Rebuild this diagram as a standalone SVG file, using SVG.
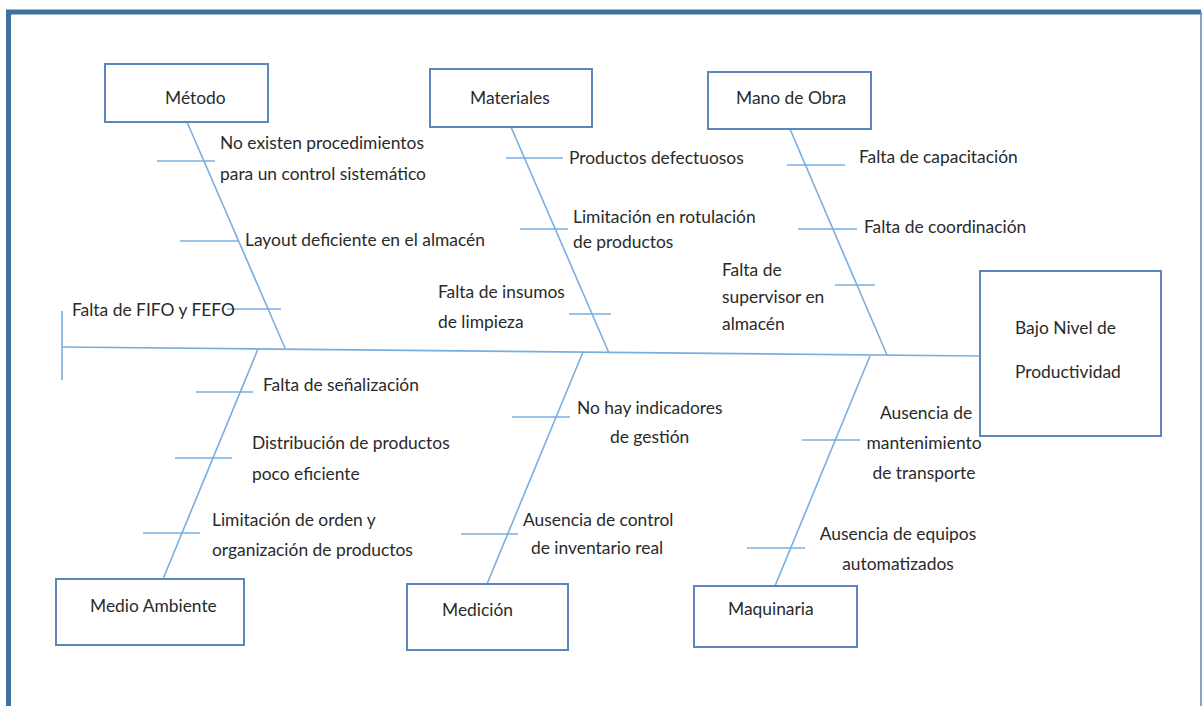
<svg xmlns="http://www.w3.org/2000/svg" width="1203" height="706" viewBox="0 0 1203 706">
<style>
.box{fill:#fff;stroke:#5b87bd;stroke-width:2}
.ln{stroke:#7aaee0;stroke-width:1.6;fill:none}
text{font-family:Lato,"Liberation Sans",sans-serif;font-size:17.4px;fill:#2a2a2a}
.c{text-anchor:middle}
</style>
<rect width="1203" height="706" fill="#fff"/>
<g id="frame">
<path d="M8.5 710 V12 H1201" fill="none" stroke="#41709e" stroke-width="5"/>
<path d="M1201 12 V710" fill="none" stroke="#5f86b0" stroke-width="1.5"/>
</g>
<g id="connectors">
<line class="ln" x1="62" y1="347" x2="980" y2="356"/>
<line class="ln" x1="62" y1="311" x2="62" y2="380"/>
<line class="ln" x1="187" y1="122" x2="285" y2="348"/>
<line class="ln" x1="157" y1="161" x2="215" y2="161"/>
<line class="ln" x1="180" y1="241" x2="238" y2="241"/>
<line class="ln" x1="227" y1="309" x2="281" y2="309"/>
<line class="ln" x1="511" y1="127" x2="609" y2="353"/>
<line class="ln" x1="506" y1="158" x2="563" y2="158"/>
<line class="ln" x1="520" y1="229" x2="568" y2="229"/>
<line class="ln" x1="569" y1="314" x2="611" y2="314"/>
<line class="ln" x1="790" y1="129" x2="887" y2="355"/>
<line class="ln" x1="787" y1="165" x2="845" y2="165"/>
<line class="ln" x1="798" y1="229" x2="857" y2="229"/>
<line class="ln" x1="835" y1="285" x2="875" y2="285"/>
<line class="ln" x1="258" y1="349" x2="163" y2="579"/>
<line class="ln" x1="196" y1="392" x2="253" y2="392"/>
<line class="ln" x1="175" y1="458" x2="232" y2="458"/>
<line class="ln" x1="143" y1="533" x2="200" y2="533"/>
<line class="ln" x1="583" y1="352" x2="487" y2="584"/>
<line class="ln" x1="512" y1="417" x2="570" y2="417"/>
<line class="ln" x1="461" y1="534" x2="518" y2="534"/>
<line class="ln" x1="870" y1="356" x2="775" y2="586"/>
<line class="ln" x1="802" y1="440" x2="860" y2="440"/>
<line class="ln" x1="747" y1="548" x2="805" y2="548"/>
</g>
<g id="metodo"><rect class="box" x="105" y="64" width="163" height="58"/><text x="165" y="104">Método</text></g>
<g id="materiales"><rect class="box" x="430" y="69" width="162" height="58"/><text x="470" y="104">Materiales</text></g>
<g id="mano-de-obra"><rect class="box" x="708" y="72" width="163" height="57"/><text x="736" y="104">Mano de Obra</text></g>
<g id="efecto"><rect class="box" x="980" y="271" width="181" height="165"/><text x="1015" y="334">Bajo Nivel de</text><text x="1015" y="378">Productividad</text></g>
<g id="medio-ambiente"><rect class="box" x="56" y="579" width="188" height="66"/><text x="90" y="612">Medio Ambiente</text></g>
<g id="medicion"><rect class="box" x="407" y="584" width="161" height="66"/><text x="442" y="616">Medición</text></g>
<g id="maquinaria"><rect class="box" x="694" y="586" width="163" height="61"/><text x="728" y="615">Maquinaria</text></g>
<g id="labels">
<text x="220" y="149">No existen procedimientos</text>
<text x="220" y="180">para un control sistemático</text>
<text x="245" y="246">Layout deficiente en el almacén</text>
<text x="72" y="316">Falta de FIFO y FEFO</text>
<text x="569" y="164">Productos defectuosos</text>
<text x="573" y="223">Limitación en rotulación</text>
<text x="573" y="248">de productos</text>
<text x="438" y="298">Falta de insumos</text>
<text x="438" y="328">de limpieza</text>
<text x="859" y="163">Falta de capacitación</text>
<text x="864" y="233">Falta de coordinación</text>
<text x="722" y="276">Falta de</text>
<text x="722" y="303">supervisor en</text>
<text x="722" y="330">almacén</text>
<text x="263" y="391">Falta de señalización</text>
<text x="252" y="449">Distribución de productos</text>
<text x="252" y="480">poco eficiente</text>
<text x="212" y="526">Limitación de orden y</text>
<text x="212" y="556">organización de productos</text>
<text x="577" y="414">No hay indicadores</text>
<text x="610" y="443">de gestión</text>
<text x="523" y="526">Ausencia de control</text>
<text x="531" y="554">de inventario real</text>
<text class="c" x="926" y="419">Ausencia de</text>
<text class="c" x="924" y="449">mantenimiento</text>
<text class="c" x="924" y="479">de transporte</text>
<text class="c" x="898" y="540">Ausencia de equipos</text>
<text class="c" x="898" y="570">automatizados</text>
</g>
</svg>
